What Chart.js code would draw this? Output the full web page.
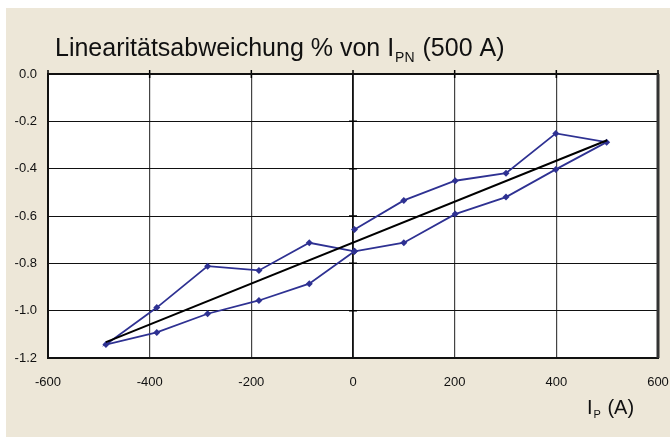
<!DOCTYPE html>
<html>
<head>
<meta charset="utf-8">
<script src="https://cdn.jsdelivr.net/npm/chart.js@4.4.0/dist/chart.umd.min.js"></script>
<style>
  html, body { margin: 0; padding: 0; background: #fff; }
  #wrap { width: 670px; height: 437px; position: relative; }
</style>
</head>
<body>
<div id="wrap"><canvas id="c"></canvas></div>
<script>
// measured loop, in the order the points are joined
const currentA = [3, 100, 201, 301, 399, 499, 399, 301, 201, 100, 3, -86, -185, -286, -386, -486, -386, -286, -185, -86, 3];
const deviation = [-0.657, -0.534, -0.451, -0.419, -0.251, -0.288, -0.403, -0.520, -0.592, -0.713, -0.749,
  -0.713, -0.830, -0.812, -0.987, -1.143, -1.092, -1.013, -0.957, -0.886, -0.749];
// straight fit line
const fitX = [-486, 500];
const fitY = [-1.133, -0.280];
const xTicks = [-600, -400, -200, 0, 200, 400, 600];
const yTicks = [0, -0.2, -0.4, -0.6, -0.8, -1.0, -1.2];

const FONT = '"Liberation Sans", Arial, sans-serif';
const BEIGE = '#ede7d8';
const BLUE = '#2e3192';

// draws text with a subscript part: [main, sub, rest]
function subText(ctx, x, y, size, parts) {
  ctx.font = size + 'px ' + FONT;
  ctx.fillText(parts[0], x, y);
  x += ctx.measureText(parts[0]).width + 1;
  ctx.font = Math.round(size * 0.55) + 'px ' + FONT;
  ctx.fillText(parts[1], x, y + size * 0.22);
  x += ctx.measureText(parts[1]).width + 1;
  ctx.font = size + 'px ' + FONT;
  ctx.fillText(parts[2], x, y);
}

const decor = {
  id: 'decor',
  beforeDraw(chart) {
    const { ctx, chartArea: a } = chart;
    ctx.save();
    ctx.fillStyle = '#fff';
    ctx.fillRect(0, 0, chart.width, chart.height);
    ctx.fillStyle = BEIGE;
    ctx.fillRect(6, 8, chart.width - 6, chart.height - 8);
    ctx.fillStyle = '#fff';
    ctx.fillRect(a.left, a.top, a.right - a.left, a.bottom - a.top);
    ctx.fillStyle = '#111';
    ctx.textBaseline = 'alphabetic';
    subText(ctx, 55, 56, 25, ['Linearitätsabweichung % von I', 'PN', ' (500 A)']);
    subText(ctx, 587, 414, 20, ['I', 'P', ' (A)']);
    ctx.restore();
  },
  beforeDatasetsDraw(chart) {
    const { ctx, chartArea: a, scales: { x, y } } = chart;
    ctx.save();
    // axes crossing inside the plot, with cross ticks
    const x0 = x.getPixelForValue(0);
    const y0 = y.getPixelForValue(0);
    ctx.strokeStyle = '#000';
    ctx.lineWidth = 1.5;
    ctx.beginPath();
    ctx.moveTo(x0, a.top); ctx.lineTo(x0, a.bottom);
    yTicks.forEach(v => { const p = y.getPixelForValue(v); ctx.moveTo(x0 - 4, p); ctx.lineTo(x0 + 4, p); });
    xTicks.forEach(v => { const p = x.getPixelForValue(v); ctx.moveTo(p, y0 - 4); ctx.lineTo(p, y0 + 4); });
    ctx.stroke();
    // plot frame
    ctx.lineWidth = 2;
    ctx.strokeStyle = '#111';
    ctx.strokeRect(a.left, a.top, a.right - a.left, a.bottom - a.top);
    ctx.strokeStyle = '#333';
    ctx.lineWidth = 3;
    ctx.beginPath();
    ctx.moveTo(a.right, a.top); ctx.lineTo(a.right, a.bottom);
    ctx.stroke();
    ctx.restore();
  }
};

new Chart(document.getElementById('c'), {
  type: 'scatter',
  data: {
    datasets: [
      {
        data: currentA.map((v, i) => ({ x: v, y: deviation[i] })),
        showLine: true,
        borderColor: BLUE,
        backgroundColor: BLUE,
        borderWidth: 1.8,
        pointStyle: 'rectRot',
        pointRadius: 3.5,
        pointBorderWidth: 0,
        order: 2
      },
      {
        data: fitX.map((v, i) => ({ x: v, y: fitY[i] })),
        showLine: true,
        borderColor: '#000',
        borderWidth: 2,
        pointRadius: 0,
        order: 1
      }
    ]
  },
  options: {
    responsive: true,
    maintainAspectRatio: false,
    animation: false,
    events: [],
    layout: { padding: { top: 74, right: 12, bottom: 0, left: 0 } },
    plugins: { legend: { display: false }, tooltip: { enabled: false } },
    scales: {
      x: {
        min: -600, max: 600,
        afterBuildTicks: s => { s.ticks = xTicks.map(v => ({ value: v })); },
        afterFit: s => { s.height = 79; s.paddingLeft = 0; s.paddingRight = 0; },
        grid: { color: '#444', lineWidth: 1.2, drawTicks: false },
        border: { display: false },
        ticks: { color: '#111', font: { family: FONT, size: 13 }, padding: 17, maxRotation: 0 }
      },
      y: {
        min: -1.2, max: 0,
        afterBuildTicks: s => { s.ticks = yTicks.map(v => ({ value: v })); },
        afterFit: s => { s.width = 48; s.paddingTop = 0; s.paddingBottom = 0; },
        grid: { color: '#111', lineWidth: 1, drawTicks: false },
        border: { display: false },
        ticks: { color: '#111', font: { family: FONT, size: 13 }, padding: 11, callback: v => Number(v).toFixed(1) }
      }
    }
  },
  plugins: [decor]
});
</script>
</body>
</html>
